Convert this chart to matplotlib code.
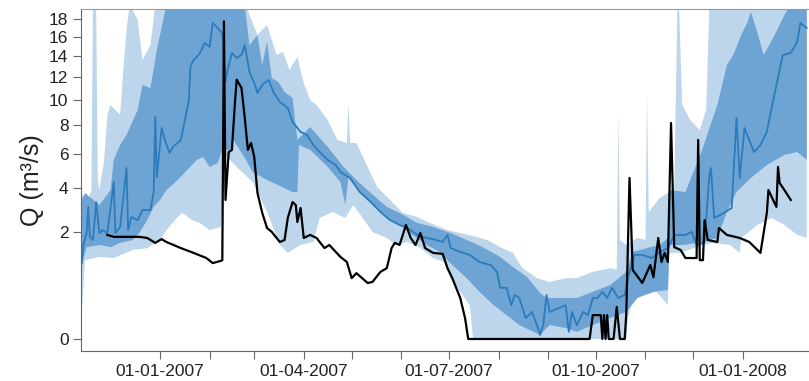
import numpy as np
import matplotlib
matplotlib.use('Agg')
import matplotlib.pyplot as plt
import matplotlib.dates as mdates

plt.rcParams['font.family'] = ['Liberation Sans', 'DejaVu Sans']

# days since 01-01-2007, discharge in m3/s
obs_day = [-33, -29, -21, -13, -8, -3, 1, 4, 13, 21, 29, 33, 38, 39, 40, 41, 43, 45, 47, 48,
           51, 53, 55, 57, 59, 61, 64, 67, 70, 75, 78, 80, 83, 85, 86, 88, 90, 94, 98, 103,
           106, 113, 117, 120, 123, 130, 133, 138, 142, 145, 147, 150, 154, 157, 160, 163, 166, 171, 177, 180,
           183, 188, 191, 193, 269, 271, 276, 277, 278, 279, 280, 281, 284, 286, 288, 291, 292, 294, 296, 302,
           307, 309, 312, 314, 316, 318, 320, 322, 326, 329, 336, 337, 338, 340, 341, 343, 349, 350, 355, 363,
           369, 376, 380, 381, 386, 387, 388, 391, 395]
obs_q = [1.90, 1.83, 1.83, 1.83, 1.79, 1.62, 1.75, 1.65, 1.45, 1.30, 1.15, 1.01, 1.07, 1.09, 17.7, 3.39, 6.13, 6.27, 10.0, 11.8,
         11.05, 8.65, 6.27, 6.74, 5.81, 3.74, 2.79, 2.16, 2.01, 1.65, 1.72, 2.57, 3.29, 3.15, 2.40, 3.01, 1.79, 1.90, 1.79, 1.45,
         1.55, 1.18, 1.04, 0.65, 0.76, 0.55, 0.57, 0.79, 0.88, 1.45, 1.62, 1.55, 2.28, 1.79, 1.55, 1.97, 1.45, 1.30, 1.27, 0.88,
         0.65, 0.295, 0.077, 0.0, 0.0, 0.10, 0.10, 0.0, 0.10, 0.0, 0.10, 0.0, 0.0, 0.18, 0.0, 0.0, 0.12, 4.55, 0.835, 0.55,
         0.96, 0.67, 1.79, 1.04, 1.30, 1.04, 8.18, 1.48, 1.39, 1.15, 1.15, 6.95, 1.09, 1.09, 2.48, 1.72, 1.65, 2.16, 1.90, 1.79,
         1.65, 1.30, 2.79, 3.89, 3.06, 5.19, 4.27, 3.89, 3.39]

med_day = [-49, -48, -46, -45, -44, -42, -40, -38, -36, -33, -29, -28, -25, -21, -20, -18, -14, -11, -6, -4,
           -3, -2, 1, 3, 6, 8, 13, 16, 18, 19, 21, 23, 25, 28, 31, 33, 36, 39, 41, 42,
           45, 48, 51, 53, 56, 59, 61, 64, 68, 71, 75, 80, 83, 88, 92, 96, 100, 105, 110, 113,
           119, 125, 132, 138, 144, 150, 155, 161, 167, 173, 177, 180, 182, 188, 194, 200, 207, 211, 213, 217,
           220, 222, 225, 229, 233, 236, 238, 240, 242, 244, 247, 254, 256, 258, 261, 265, 268, 271, 274, 277,
           280, 283, 287, 291, 293, 297, 302, 308, 313, 318, 319, 322, 329, 333, 336, 341, 344, 345, 347, 351,
           358, 361, 363, 366, 372, 376, 380, 383, 386, 390, 395, 399, 401, 405]
med_q = [1.01, 1.55, 1.97, 3.06, 1.83, 1.72, 3.29, 1.97, 2.08, 1.97, 4.32, 1.97, 2.20, 5.13, 2.08, 2.61, 2.48, 2.92, 2.92, 3.79,
         8.65, 4.60, 7.81, 6.95, 6.07, 6.47, 6.95, 8.65, 10.0, 12.98, 13.65, 13.95, 14.35, 15.37, 14.96, 17.52, 16.97, 16.43, 11.59, 12.51,
         14.35, 13.85, 14.15, 15.16, 12.51, 11.50, 10.62, 11.32, 11.77, 10.70, 9.85, 9.36, 8.26, 7.52, 7.30, 6.60, 6.13, 5.62, 5.31, 4.89,
         4.55, 3.79, 3.29, 2.83, 2.48, 2.28, 2.16, 1.90, 1.79, 1.72, 1.65, 1.90, 1.45, 1.33, 1.24, 1.04, 0.96, 0.79, 0.46, 0.46,
         0.20, 0.34, 0.295, 0.077, 0.128, 0.034, 0.003, 0.034, 0.34, 0.128, 0.148, 0.20, 0.009, 0.128, 0.034, 0.128, 0.10, 0.295, 0.295, 0.39,
         0.295, 0.46, 0.295, 0.34, 0.65, 1.24, 1.24, 1.15, 1.33, 1.45, 1.55, 1.90, 1.90, 2.01, 1.55, 1.65, 4.72, 5.13, 2.57, 2.70,
         3.01, 8.57, 4.55, 7.81, 6.13, 6.60, 7.52, 9.36, 11.32, 14.15, 14.35, 15.47, 17.52, 16.97]

# inner band (dark)
in_lo_day = [-49, -46, -38, -31, -25, -17, -13, -8, -4, 0, 4, 11, 17, 23, 27, 31, 36, 39, 44, 46,
             52, 58, 67, 75, 83, 86, 87, 94, 105, 113, 116, 118, 125, 133, 142, 150, 158, 167, 175, 183,
             192, 200, 209, 217, 225, 234, 238, 244, 254, 261, 271, 282, 292, 299, 309, 318, 319, 328, 339, 349,
             355, 361, 370, 380, 391, 399, 405]
in_lo_q = [0.96, 1.48, 1.55, 1.48, 1.62, 1.72, 1.97, 2.48, 3.06, 3.39, 3.89, 4.43, 5.01, 5.62, 5.81, 5.19, 5.43, 6.27, 6.27, 6.95,
           5.94, 4.89, 4.43, 4.11, 3.79, 3.79, 6.60, 6.27, 5.19, 4.32, 3.15, 4.55, 3.79, 3.15, 2.57, 2.28, 1.90, 1.55, 1.33, 0.96,
           0.65, 0.39, 0.20, 0.10, 0.034, 0.009, 0.003, 0.034, 0.021, 0.009, 0.034, 0.077, 0.128, 0.295, 0.39, 0.42, 1.55, 1.55, 1.65, 1.79,
           2.83, 3.79, 4.55, 5.31, 5.94, 6.13, 5.62]
in_hi_day = [-49, -47, -38, -31, -29, -25, -21, -14, -11, -6, -2, 2, 4, 53, 56, 61, 64, 67, 70, 74,
             78, 83, 86, 94, 105, 115, 123, 132, 142, 150, 161, 171, 182, 192, 202, 213, 221, 230, 238, 242,
             254, 261, 271, 282, 292, 296, 305, 313, 318, 319, 329, 339, 349, 355, 359, 364, 368, 370, 374, 378,
             384, 391, 395, 405]
in_hi_q = [3.39, 3.74, 3.15, 3.89, 5.62, 6.60, 7.30, 9.20, 11.32, 11.05, 14.65, 17.85, 19.6, 19.6, 15.16, 16.2, 13.17, 15.47, 11.95, 11.59,
           10.70, 10.19, 6.95, 7.88, 6.47, 5.19, 4.43, 3.74, 3.06, 2.79, 2.36, 2.20, 1.97, 1.72, 1.48, 1.18, 0.91, 0.67, 0.37, 0.295,
           0.295, 0.295, 0.39, 0.51, 0.79, 1.33, 1.45, 1.55, 1.79, 3.89, 3.79, 6.13, 9.61, 13.17, 14.15, 16.21, 17.63, 18.76, 16.53, 14.15,
           15.9, 18.4, 19.6, 19.6]

# outer band (light)
out_lo_day = [-49, -47, -38, -29, -17, -8, 0, 4, 11, 14, 20, 25, 31, 38, 41, 48, 58, 67, 75, 80,
              88, 96, 100, 108, 116, 121, 127, 133, 142, 148, 155, 163, 171, 178, 182, 188, 194, 196, 292, 293,
              296, 301, 311, 318, 319, 326, 336, 346, 357, 363, 364, 374, 383, 391, 399, 405]
out_lo_q = [0.128, 1.09, 1.18, 1.15, 1.39, 1.45, 1.72, 2.08, 2.61, 2.79, 2.48, 2.36, 2.08, 2.20, 5.94, 5.19, 4.32, 2.83, 1.55, 1.30,
            1.55, 1.65, 2.57, 2.83, 2.57, 3.15, 2.57, 2.01, 1.79, 1.55, 1.65, 1.45, 1.15, 1.04, 0.65, 0.39, 0.20, 0.0, 0.0, 0.077,
            0.295, 0.34, 0.39, 0.20, 1.30, 1.30, 1.48, 1.62, 1.55, 1.30, 1.79, 2.28, 2.57, 2.28, 1.90, 1.79]
out_hi_day = [-49, -45, -43, -42, -40, -39, -38, -35, -33, -31, -28, -25, -23, -21, -19, -14, -11, -6, -3, 54,
              56, 61, 67, 73, 77, 81, 86, 90, 94, 98, 105, 111, 117, 118, 119, 123, 130, 136, 144, 152,
              161, 169, 180, 188, 196, 205, 213, 221, 227, 236, 244, 254, 261, 271, 282, 286, 287, 288, 292, 299,
              304, 305, 306, 313, 319, 322, 324, 325, 327, 332, 338, 342, 344, 405]
out_hi_q = [3.64, 3.39, 3.89, 19.6, 19.6, 4.43, 3.89, 5.62, 8.80, 9.61, 9.20, 8.80, 12.69, 16.75, 19.6, 17.85, 13.65, 15.16, 19.6, 19.6,
            18.41, 16.21, 17.30, 14.15, 14.45, 12.69, 13.95, 11.50, 10.02, 9.61, 8.41, 6.95, 6.74, 9.77, 6.74, 6.74, 5.19, 4.05, 3.39, 2.79,
            2.61, 2.36, 2.08, 1.97, 1.86, 1.72, 1.48, 1.30, 0.88, 0.65, 0.57, 0.65, 0.65, 0.79, 0.88, 0.84, 9.04, 1.72, 1.55, 1.79,
            1.72, 10.44, 2.83, 3.49, 3.79, 3.89, 19.6, 19.6, 9.61, 8.41, 7.66, 9.20, 19.6, 19.6]

tick_months = ['2007-01', '2007-02', '2007-03', '2007-04', '2007-05', '2007-06', '2007-07',
               '2007-08', '2007-09', '2007-10', '2007-11', '2007-12', '2008-01']
label_months = ['2007-01', '2007-04', '2007-07', '2007-10', '2008-01']


def fwd(v):
    v = np.asarray(v, dtype=float)
    return np.sign(v) * np.sqrt(np.abs(v))


def inv(v):
    v = np.asarray(v, dtype=float)
    return np.sign(v) * v ** 2


base = mdates.date2num(np.datetime64('2007-01-01'))


def to_x(days):
    return base + np.asarray(days, dtype=float)


light = '#bdd6ec'
dark = '#6ea4d3'
mid = '#2c7bbb'

fig = plt.figure(figsize=(8.09, 3.81), dpi=100)
ax = fig.add_axes([81 / 809, 30 / 381, 728 / 809, 342 / 381])
ax.set_yscale('function', functions=(fwd, inv))

ax.fill(np.r_[to_x(out_hi_day), to_x(out_lo_day)[::-1]],
        np.r_[out_hi_q, out_lo_q[::-1]], color=light, lw=0)
ax.fill(np.r_[to_x(in_hi_day), to_x(in_lo_day)[::-1]],
        np.r_[in_hi_q, in_lo_q[::-1]], color=dark, lw=0)
ax.plot(to_x(med_day), med_q, color=mid, lw=1.3)
ax.plot(to_x(obs_day), obs_q, color='black', lw=1.6)

ax.set_xlim(base - 49.5, base + 406.4)
ax.set_ylim(-0.0253, 19.1)

ax.set_yticks([0, 2, 4, 6, 8, 10, 12, 14, 16, 18])
ax.yaxis.set_minor_locator(matplotlib.ticker.NullLocator())
major_x = mdates.date2num(np.array([np.datetime64(m + '-01') for m in label_months]))
minor_x = mdates.date2num(np.array([np.datetime64(m + '-01') for m in tick_months]))
ax.set_xticks(major_x)
ax.set_xticks(minor_x, minor=True)
ax.xaxis.set_major_formatter(mdates.DateFormatter('%d-%m-%Y'))

ax.tick_params(axis='both', which='both', direction='out', length=6, width=0.8,
               color='#666666', labelcolor='#222222', labelsize=12.5, pad=3)
ax.set_ylabel('Q (m³/s)', fontsize=18, color='#222222', labelpad=4)

ax.spines['right'].set_visible(False)
ax.spines['top'].set_color('#999999')
ax.spines['left'].set_color('#666666')
ax.spines['bottom'].set_color('#666666')

fig.savefig('out.png', dpi=100)
